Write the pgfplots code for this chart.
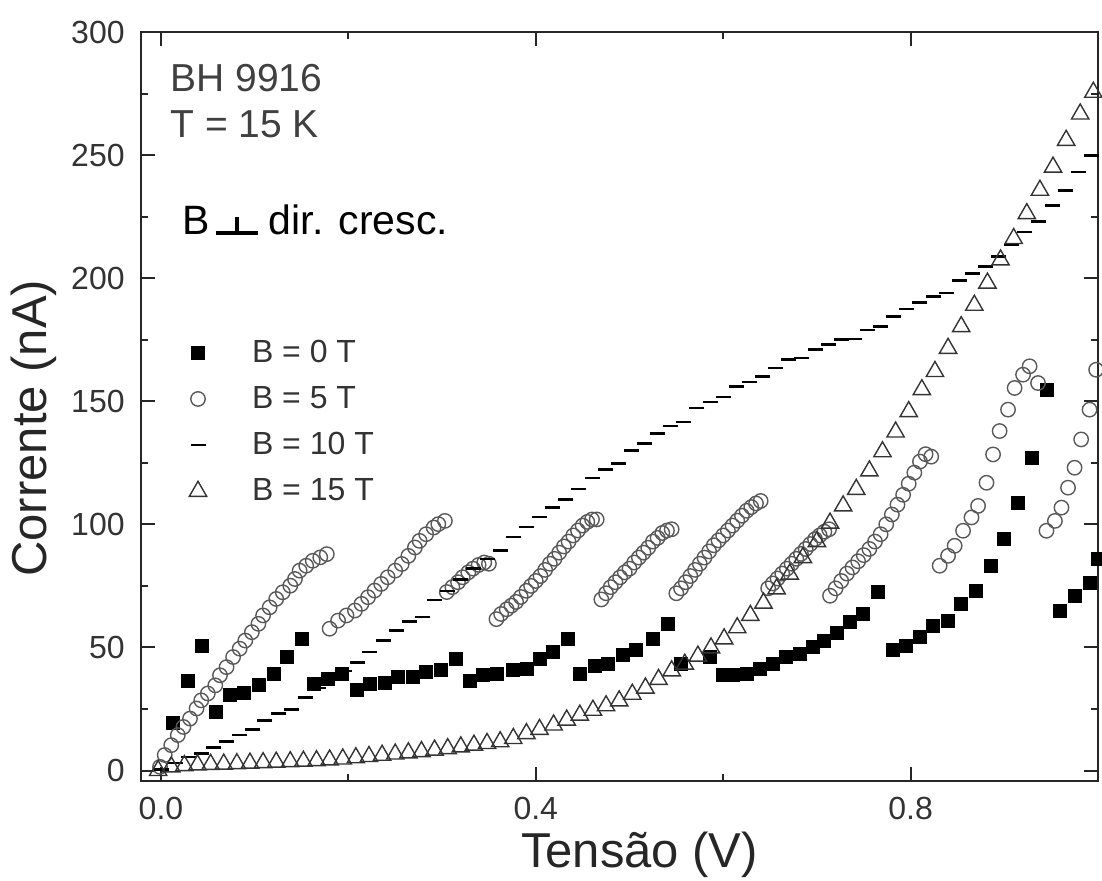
\documentclass[border=0pt]{standalone}
\usepackage{fontspec}
\setmainfont{Liberation Sans}
\usepackage{pgfplots}
\pgfplotsset{compat=1.18}

\pgfplotstableread{
x y
0.013 19.4
0.029 36.6
0.044 50.5
0.059 23.8
0.074 30.6
0.088 31.5
0.104 34.6
0.120 39.1
0.134 46.1
0.150 53.5
0.163 35.3
0.178 37.3
0.193 39.3
0.209 32.6
0.223 35.3
0.239 35.5
0.253 38.0
0.269 38.0
0.283 40.0
0.299 40.7
0.315 45.4
0.330 36.6
0.344 38.7
0.358 39.3
0.376 40.7
0.390 41.4
0.404 45.4
0.418 48.1
0.434 53.5
0.447 39.3
0.463 42.7
0.477 43.4
0.493 46.8
0.507 48.8
0.525 53.5
0.541 59.6
0.555 43.4
0.586 46.1
0.600 38.7
0.610 38.7
0.625 39.3
0.639 41.4
0.653 43.4
0.667 46.1
0.682 47.4
0.696 50.1
0.708 52.8
0.721 55.8
0.735 60.2
0.749 63.6
0.765 72.4
0.781 48.8
0.795 50.8
0.810 54.2
0.824 58.9
0.840 60.9
0.854 67.7
0.870 73.1
0.886 83.2
0.900 94.0
0.915 108.8
0.929 127.0
0.945 154.7
0.959 65.0
0.975 71.1
0.991 76.4
1.000 86.0
}\tabBzero

\pgfplotstableread{
x y
-0.001 1.5
0.004 6.3
0.011 10.3
0.018 14.4
0.024 17.7
0.031 21.1
0.038 25.2
0.043 28.5
0.050 31.3
0.058 34.6
0.063 38.7
0.070 42.0
0.077 46.1
0.084 49.5
0.090 52.8
0.097 56.2
0.104 59.6
0.109 63.0
0.116 66.3
0.123 69.7
0.130 72.4
0.138 75.1
0.143 77.8
0.148 81.2
0.155 83.2
0.162 85.2
0.170 86.6
0.177 87.9
0.180 57.6
0.189 60.9
0.198 63.0
0.207 65.0
0.214 67.7
0.221 70.4
0.228 73.1
0.235 75.8
0.242 78.5
0.250 81.2
0.257 83.9
0.264 87.2
0.271 90.6
0.276 93.3
0.283 96.0
0.291 98.7
0.296 100.1
0.303 101.4
0.305 72.5
0.311 74.5
0.317 76.5
0.322 78.5
0.328 80.5
0.333 82.0
0.339 83.5
0.345 84.5
0.350 84.0
0.358 61.5
0.363 63.6
0.369 65.5
0.374 67.0
0.379 68.5
0.384 70.5
0.390 73.0
0.395 75.0
0.400 77.0
0.405 79.0
0.410 81.5
0.415 84.0
0.420 86.0
0.425 88.5
0.430 91.0
0.435 93.0
0.440 95.5
0.445 97.5
0.450 99.5
0.455 101.0
0.460 102.0
0.465 102.0
0.470 69.5
0.475 72.0
0.480 74.5
0.485 76.5
0.490 78.5
0.495 80.5
0.500 82.0
0.505 84.5
0.510 86.5
0.515 88.5
0.520 90.5
0.525 93.0
0.530 94.5
0.535 96.5
0.540 97.5
0.545 98.0
0.550 72.0
0.555 74.0
0.560 76.5
0.565 79.0
0.570 81.5
0.575 84.0
0.580 86.5
0.585 89.0
0.590 91.5
0.595 93.5
0.600 95.5
0.605 97.5
0.610 99.5
0.615 101.5
0.620 103.5
0.625 105.5
0.630 107.0
0.635 108.5
0.640 109.5
0.648 74.0
0.653 76.0
0.658 78.0
0.663 80.0
0.668 82.0
0.673 84.0
0.678 86.0
0.683 88.0
0.688 90.0
0.693 92.0
0.698 94.0
0.703 95.5
0.708 97.0
0.713 98.0
0.714 71.0
0.720 74.0
0.726 77.0
0.732 80.0
0.738 82.5
0.744 85.0
0.750 87.5
0.756 90.0
0.762 93.0
0.768 96.0
0.774 100.0
0.780 104.0
0.786 108.0
0.792 112.0
0.798 116.5
0.804 121.0
0.810 125.5
0.816 128.5
0.822 127.5
0.831 83.2
0.840 87.2
0.847 91.3
0.856 97.4
0.865 102.8
0.872 107.5
0.881 116.9
0.888 128.4
0.895 137.9
0.904 146.6
0.911 155.4
0.920 160.8
0.927 164.2
0.936 157.4
0.945 97.4
0.954 101.4
0.961 106.8
0.968 114.9
0.975 123.0
0.982 134.5
0.991 146.6
0.998 162.8
}\tabBfive

\pgfplotstableread{
x y
0.001 0.5
0.015 3.0
0.029 5.5
0.043 6.8
0.056 9.4
0.070 11.7
0.084 14.4
0.098 16.7
0.111 20.4
0.125 23.2
0.139 24.8
0.154 29.6
0.168 33.5
0.182 37.0
0.196 40.5
0.210 44.0
0.223 48.1
0.237 52.8
0.251 56.9
0.265 60.6
0.279 62.3
0.292 69.3
0.306 73.0
0.320 77.5
0.334 82.0
0.348 86.0
0.362 89.3
0.376 94.9
0.390 99.0
0.404 103.0
0.418 106.8
0.432 110.2
0.446 114.3
0.460 118.9
0.474 122.3
0.488 124.8
0.502 130.0
0.516 132.9
0.530 136.8
0.544 139.9
0.558 141.6
0.572 147.3
0.586 149.7
0.600 151.7
0.614 156.1
0.628 157.8
0.642 160.1
0.656 163.5
0.670 166.9
0.684 167.5
0.698 171.0
0.712 173.0
0.726 175.0
0.740 175.3
0.754 179.0
0.768 180.4
0.782 184.4
0.796 187.5
0.810 190.0
0.824 192.5
0.838 193.9
0.852 199.0
0.866 202.0
0.880 204.7
0.894 208.7
0.908 213.5
0.922 218.8
0.937 222.9
0.951 229.6
0.965 235.7
0.979 243.1
0.993 249.9
}\tabBten

\pgfplotstableread{
x y
-0.003 0.0
0.011 1.5
0.025 2.0
0.039 2.3
0.053 2.5
0.067 2.6
0.081 2.8
0.095 3.0
0.109 3.2
0.123 3.4
0.138 3.6
0.152 3.8
0.166 4.0
0.180 4.3
0.194 4.7
0.208 5.2
0.222 5.7
0.236 6.2
0.250 6.7
0.264 7.2
0.278 7.7
0.292 8.3
0.306 8.9
0.320 9.6
0.334 10.3
0.348 11.0
0.362 11.7
0.376 13.0
0.390 15.0
0.404 16.7
0.419 18.5
0.433 20.5
0.447 22.5
0.461 24.5
0.475 26.3
0.489 28.3
0.503 31.0
0.517 33.5
0.531 37.0
0.545 40.5
0.559 43.2
0.573 46.5
0.587 49.8
0.601 53.5
0.615 58.0
0.629 63.0
0.643 68.0
0.657 73.8
0.671 79.8
0.685 86.5
0.700 93.0
0.714 100.5
0.728 107.5
0.742 114.2
0.756 121.7
0.770 129.5
0.784 137.5
0.798 145.8
0.812 154.7
0.826 162.1
0.840 171.5
0.854 180.3
0.868 189.0
0.882 198.0
0.896 207.4
0.910 216.1
0.924 226.2
0.938 235.7
0.952 245.1
0.966 256.0
0.981 266.7
0.995 275.5
}\tabBfifteen

\begin{document}
\begin{tikzpicture}
\useasboundingbox (-70.5pt,-50pt) rectangle (480.5pt,390.5pt);
\begin{axis}[
  scale only axis,
  width=478.5pt, height=374.5pt,
  xmin=-0.0213, xmax=1.0,
  ymin=-4.25, ymax=300,
  axis line style={line width=1.2pt, black!85},
  every tick/.style={line width=1pt, black!85},
  major tick length=7pt,
  minor tick length=3.5pt,
  xtick={0,0.4,0.8},
  xticklabels={0.0,0.4,0.8},
  minor xtick={0.2,0.6,1.0},
  ytick={0,50,100,150,200,250,300},
  minor y tick num=1,
  /pgf/number format/assume math mode=true,
  tick label style={font=\fontsize{16}{19}\selectfont, text=black!80},
  yticklabel style={inner sep=0pt, xshift=-8pt},
  xticklabel style={inner sep=0pt, yshift=-8pt},
  xlabel={Tensão (V)},
  ylabel={Corrente (nA)},
  label style={font=\fontsize{24.5}{28}\selectfont, text=black!85},
  xlabel style={at={(axis description cs:0.521,-0.099)}, anchor=center},
  ylabel style={at={(axis description cs:-0.1123,0.471)}, anchor=center},
  legend style={draw=none, fill=none, at={(axis description cs:0.0345,0.594)},
    anchor=north west, font=\fontsize{16}{19}\selectfont, text=black!80,
    row sep=6.5pt, inner sep=0pt, outer sep=0pt,
    nodes={inner sep=2pt}},
  legend cell align=left,
  legend image code/.code={\path[draw=none,fill=none] (0pt,-3pt) rectangle (37pt,3pt);
    \draw[mark repeat=2,mark phase=2,#1] plot coordinates {(0pt,0pt) (12pt,0pt) (24pt,0pt)};},
]
\addplot[only marks, mark=square*, mark size=3.25pt, draw=black, fill=black] table {\tabBzero};
\addlegendentry{B = 0 T}
\addplot[only marks, mark=o, mark size=3.6pt, draw=black!65, line width=0.7pt] table {\tabBfive};
\addlegendentry{B = 5 T}
\addplot[only marks, mark=-, mark size=3.75pt, draw=black, line width=1.3pt] table {\tabBten};
\addlegendentry{B = 10 T}
\addplot[only marks, mark=triangle, mark size=5pt, draw=black!80, line width=0.7pt] table {\tabBfifteen};
\addlegendentry{B = 15 T}

\node[anchor=base west, inner sep=0pt, text=black!75, font=\fontsize{19.5}{23}\selectfont]
  at (axis description cs:0.0303,0.920) {BH 9916};
\node[anchor=base west, inner sep=0pt, text=black!75, font=\fontsize{19.5}{23}\selectfont]
  at (axis description cs:0.0303,0.8585) {T = 15 K};
\node[anchor=base west, inner sep=0pt, font=\fontsize{20.5}{24}\selectfont]
  at (axis description cs:0.0428,0.729)
  {B\hspace{3pt}\rlap{\rule{21pt}{2pt}}\hspace{9.5pt}\rule{2pt}{9pt}\hspace{9.5pt}\hspace{5.5pt}dir. cresc.};
\end{axis}
\end{tikzpicture}
\end{document}
